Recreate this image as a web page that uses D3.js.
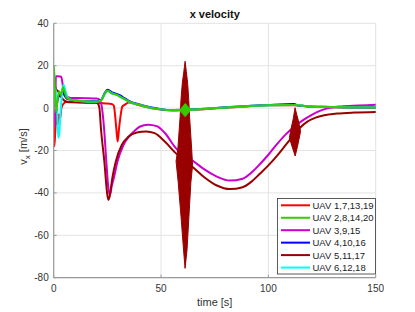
<!DOCTYPE html>
<html>
<head>
<meta charset="utf-8">
<script src="https://cdn.jsdelivr.net/npm/d3@7"></script>
<style>
	body { margin: 0; background: #fff; }
	text { font-family: "Liberation Sans", Arial, sans-serif; }
</style>
</head>
<body>
<script>
"use strict";

//series values, [time, vx]
let uav1 = [[0,-4],[0.3,-18],[0.8,-10],[1.3,-2],[1.8,-8],[2.3,-3],[3,-5],[3.6,0],[4.5,2],[6,3],[10,2.9],[15,2.7],[20,2.5],[24,2.2],[27,1.9],[28,1.2],[28.6,-3.3],[29.2,-10],[29.8,-15.8],[30.4,-10],[31.2,-3.3],[32,0.8],[33,1.5],[35,2.6],[40,1.3],[45,0],[50,-0.7],[55,-1.1],[61,-0.9],[70,-0.5],[80,0.2],[90,0.8],[100,1.3],[112,1.4],[118,0.8],[125,0.5],[135,0.3],[150,0.2]];
let uav2 = [[0,20],[0.4,14],[0.8,2],[1.2,-2],[1.8,4],[2.6,8],[3.5,6],[4.3,10],[5,8],[6,5],[8,4],[10,3.5],[15,3.2],[20,3],[22,3.5],[24,7],[25,8.2],[27,7],[29.3,6.2],[31,5.3],[32.5,4.5],[35,3],[40,1.5],[45,0.2],[50,-0.6],[55,-1],[61,-0.8],[70,-0.4],[80,0.3],[90,0.9],[100,1.4],[112,1.5],[118,0.9],[125,0.6],[135,0.4],[150,0.3]];
let uav3 = [[0,-3],[0.4,-9],[0.8,5],[1,15],[2,15],[3.5,14.8],[4.5,9],[6,5.5],[8,4.8],[15,4.7],[20,4.5],[21.5,3.8],[22.5,0],[23.5,-10],[24.5,-25],[25.5,-38],[26.2,-41],[27,-37],[28,-33],[29.7,-25.3],[32.5,-17.4],[35,-13.5],[37.3,-11.1],[40,-8.8],[44,-7.8],[48,-8.5],[52,-12],[56.6,-18.5],[60,-22],[65,-25],[70,-28.8],[76,-32.3],[82,-34.2],[88,-33.3],[92,-30.5],[96,-26.5],[100,-22],[104,-17],[108,-12.5],[112,-8.8],[116,-5.8],[120,-3.3],[124,-1.3],[128,0],[134,0.8],[142,1.2],[150,1.6]];
let uav4 = [[0,3],[0.5,7],[1,5],[1.5,2],[2,5],[3,6],[4,7.5],[5,6],[6,4.5],[8,4],[12,3.5],[20,3.2],[22,3.8],[24,7.5],[25,8.6],[27,7.5],[29.3,6.7],[31,6],[32.5,5],[35,3.4],[40,1.7],[45,0.4],[50,-0.5],[55,-0.9],[61,-0.7],[70,-0.3],[80,0.4],[90,1],[100,1.5],[112,1.9],[114,1.2],[118,0.9],[125,0.6],[135,0.4],[150,0.3]];
let uav5 = [[0,13],[0.5,11],[1,9],[2,8],[3,6],[4,4.5],[6,3],[8,2.7],[15,2.5],[19.3,2.6],[20.5,2.2],[21.3,0],[22,-9.5],[23.6,-25.3],[25,-41],[25.5,-43.3],[26,-42],[27.3,-33],[28.9,-25.3],[31.7,-17.4],[34.8,-13.5],[38.7,-11.5],[43,-11],[47,-11.8],[52,-16],[56.6,-21],[60,-24],[65,-28],[70,-32.5],[76,-36.5],[82,-38.2],[88,-37.3],[92,-34.8],[96,-31],[100,-27],[104,-22.5],[108,-17.5],[112,-12.5],[115,-9],[118,-6.5],[122,-4.5],[126,-3.4],[132,-2.6],[140,-2.1],[150,-1.8]];
let uav6 = [[0,3],[0.4,8],[1,9],[1.6,0],[2.1,-14],[2.6,-12],[3.2,-2],[4,8],[4.6,11],[5.5,8],[6.5,5],[8,4],[12,3.4],[20,3],[22,3.5],[24,7],[25,8.2],[27,7],[29.3,6.2],[31,5.3],[32.5,4.5],[35,3],[40,1.5],[45,0.2],[50,-0.6],[55,-1],[61,-0.8],[70,-0.4],[80,0.3],[90,0.9],[100,1.4],[112,1.5],[118,0.9],[125,0.6],[135,0.4],[150,0.3]];

//oscillation bursts of UAV 5, outline [time, vx] going round
let burst61 = [[61.2,21.9],[60.6,17],[59.9,11.7],[59.3,4],[58.9,-4],[57.8,-19.8],[57,-25],[58,-35],[59.3,-51],[60.5,-67],[61.2,-75.6],[62.1,-67],[63,-51],[63.9,-35],[64.7,-27],[64.3,-19.8],[63.3,-4],[62.9,4],[62.4,11.7],[61.8,17]];
let burst112 = [[112.4,0],[111.6,-5],[110.5,-10],[109.8,-14],[111,-18],[112.5,-22.6],[113.6,-18],[115,-11],[114,-6],[113.2,-3]];
//marker where all tracks meet
let meet = [61.3, -0.9];

let legend_names = ["UAV 1,7,13,19", "UAV 2,8,14,20", "UAV 3,9,15", "UAV 4,10,16", "UAV 5,11,17", "UAV 6,12,18"];
let colors = ["#ff0000", "#33cc00", "#cc00cc", "#0000ff", "#990000", "#00ffff"];
let x_ticks = [0, 50, 100, 150];
let y_ticks = [-80, -60, -40, -20, 0, 20, 40];

(function()
{
	let width = 415, height = 312;
	let left = 53.7, right = 375.7, top = 23.3, bottom = 277.7;

	let x = d3.scaleLinear().domain([0, 150]).range([left, right]);
	let y = d3.scaleLinear().domain([-80, 40]).range([bottom, top]);

	let svg = d3.select("body").append("svg")
		.attr("width", width)
		.attr("height", height);

	//grid
	let grid = svg.append("g").attr("stroke", "#e3e3e3").attr("stroke-width", 1);
	grid.selectAll(".gx").data(x_ticks).enter().append("line")
		.attr("x1", d => x(d)).attr("x2", d => x(d))
		.attr("y1", top).attr("y2", bottom);
	grid.selectAll(".gy").data(y_ticks).enter().append("line")
		.attr("x1", left).attr("x2", right)
		.attr("y1", d => y(d)).attr("y2", d => y(d));

	//clip to axes
	svg.append("clipPath").attr("id", "clip")
		.append("rect")
		.attr("x", left).attr("y", top)
		.attr("width", right - left).attr("height", bottom - top);

	let plot = svg.append("g").attr("clip-path", "url(#clip)")
		.attr("fill", "none")
		.attr("stroke-width", 2)
		.attr("stroke-linejoin", "round")
		.attr("stroke-linecap", "round");

	let path_func = d3.line()
		.x(d => x(d[0]))
		.y(d => y(d[1]))
		.curve(d3.curveMonotoneX);

	let outline_func = d3.line()
		.x(d => x(d[0]))
		.y(d => y(d[1]))
		.curve(d3.curveLinearClosed);

	//draw order: red, magenta, blue, dark red, cyan, green on top
	let series = [uav1, uav2, uav3, uav4, uav5, uav6];
	let order = [0, 2, 3, 4, 5, 1];
	order.forEach(function(i)
	{
		plot.append("path")
			.attr("d", path_func(series[i]))
			.attr("stroke", colors[i]);
		if (i == 4)
		{
			[burst61, burst112].forEach(function(b)
			{
				plot.append("path")
					.attr("d", outline_func(b))
					.attr("fill", colors[4])
					.attr("stroke", colors[4])
					.attr("stroke-width", 1);
			});
		}
	});

	//green diamond
	let mx = x(meet[0]), my = y(meet[1]), rx = 5.5, ry = 6.5;
	plot.append("path")
		.attr("d", "M" + (mx - rx) + "," + my + "L" + mx + "," + (my - ry) + "L" + (mx + rx) + "," + my + "L" + mx + "," + (my + ry) + "Z")
		.attr("fill", colors[1])
		.attr("stroke", colors[1])
		.attr("stroke-width", 1);

	//axes
	let axis_color = "#9a9a9a";
	svg.append("line")
		.attr("x1", left).attr("x2", left).attr("y1", top).attr("y2", bottom)
		.attr("stroke", axis_color).attr("stroke-width", 1.2);
	svg.append("line")
		.attr("x1", left).attr("x2", right).attr("y1", bottom).attr("y2", bottom)
		.attr("stroke", axis_color).attr("stroke-width", 1.2);
	svg.selectAll(".tx").data(x_ticks).enter().append("line")
		.attr("x1", d => x(d)).attr("x2", d => x(d))
		.attr("y1", bottom).attr("y2", bottom - 3)
		.attr("stroke", axis_color);
	svg.selectAll(".ty").data(y_ticks).enter().append("line")
		.attr("x1", left).attr("x2", left + 3)
		.attr("y1", d => y(d)).attr("y2", d => y(d))
		.attr("stroke", axis_color);

	//tick labels
	svg.selectAll(".lx").data(x_ticks).enter().append("text")
		.attr("x", d => x(d)).attr("y", bottom + 14)
		.attr("text-anchor", "middle")
		.attr("font-size", 10).attr("fill", "#333")
		.text(d => d);
	svg.selectAll(".ly").data(y_ticks).enter().append("text")
		.attr("x", left - 5).attr("y", d => y(d) + 3.5)
		.attr("text-anchor", "end")
		.attr("font-size", 10).attr("fill", "#333")
		.text(d => d);

	//title and labels
	svg.append("text")
		.attr("x", (left + right) / 2).attr("y", 17.5)
		.attr("text-anchor", "middle")
		.attr("font-size", 11).attr("font-weight", "bold").attr("fill", "#111")
		.text("x velocity");
	svg.append("text")
		.attr("x", (left + right) / 2).attr("y", 306)
		.attr("text-anchor", "middle")
		.attr("font-size", 11).attr("fill", "#333")
		.text("time [s]");
	let yl = svg.append("text")
		.attr("transform", "translate(27," + ((top + bottom) / 2 - 4) + ") rotate(-90)")
		.attr("text-anchor", "middle")
		.attr("font-size", 11).attr("fill", "#333");
	yl.append("tspan").text("v");
	yl.append("tspan").attr("dy", 3).attr("font-size", 8).text("x");
	yl.append("tspan").attr("dy", -3).text(" [m/s]");

	//legend
	let lg = svg.append("g");
	lg.append("rect")
		.attr("x", 277.5).attr("y", 198.5)
		.attr("width", 98).attr("height", 75.5)
		.attr("fill", "#fff")
		.attr("stroke", "#333").attr("stroke-width", 0.8);
	legend_names.forEach(function(name, i)
	{
		let ly = 205.3 + i * 12.45;
		lg.append("line")
			.attr("x1", 281).attr("x2", 310)
			.attr("y1", ly).attr("y2", ly)
			.attr("stroke", colors[i]).attr("stroke-width", 2);
		lg.append("text")
			.attr("x", 312.5).attr("y", ly + 3.4)
			.attr("font-size", 9.5).attr("fill", "#222")
			.text(name);
	});
})();
</script>
</body>
</html>
